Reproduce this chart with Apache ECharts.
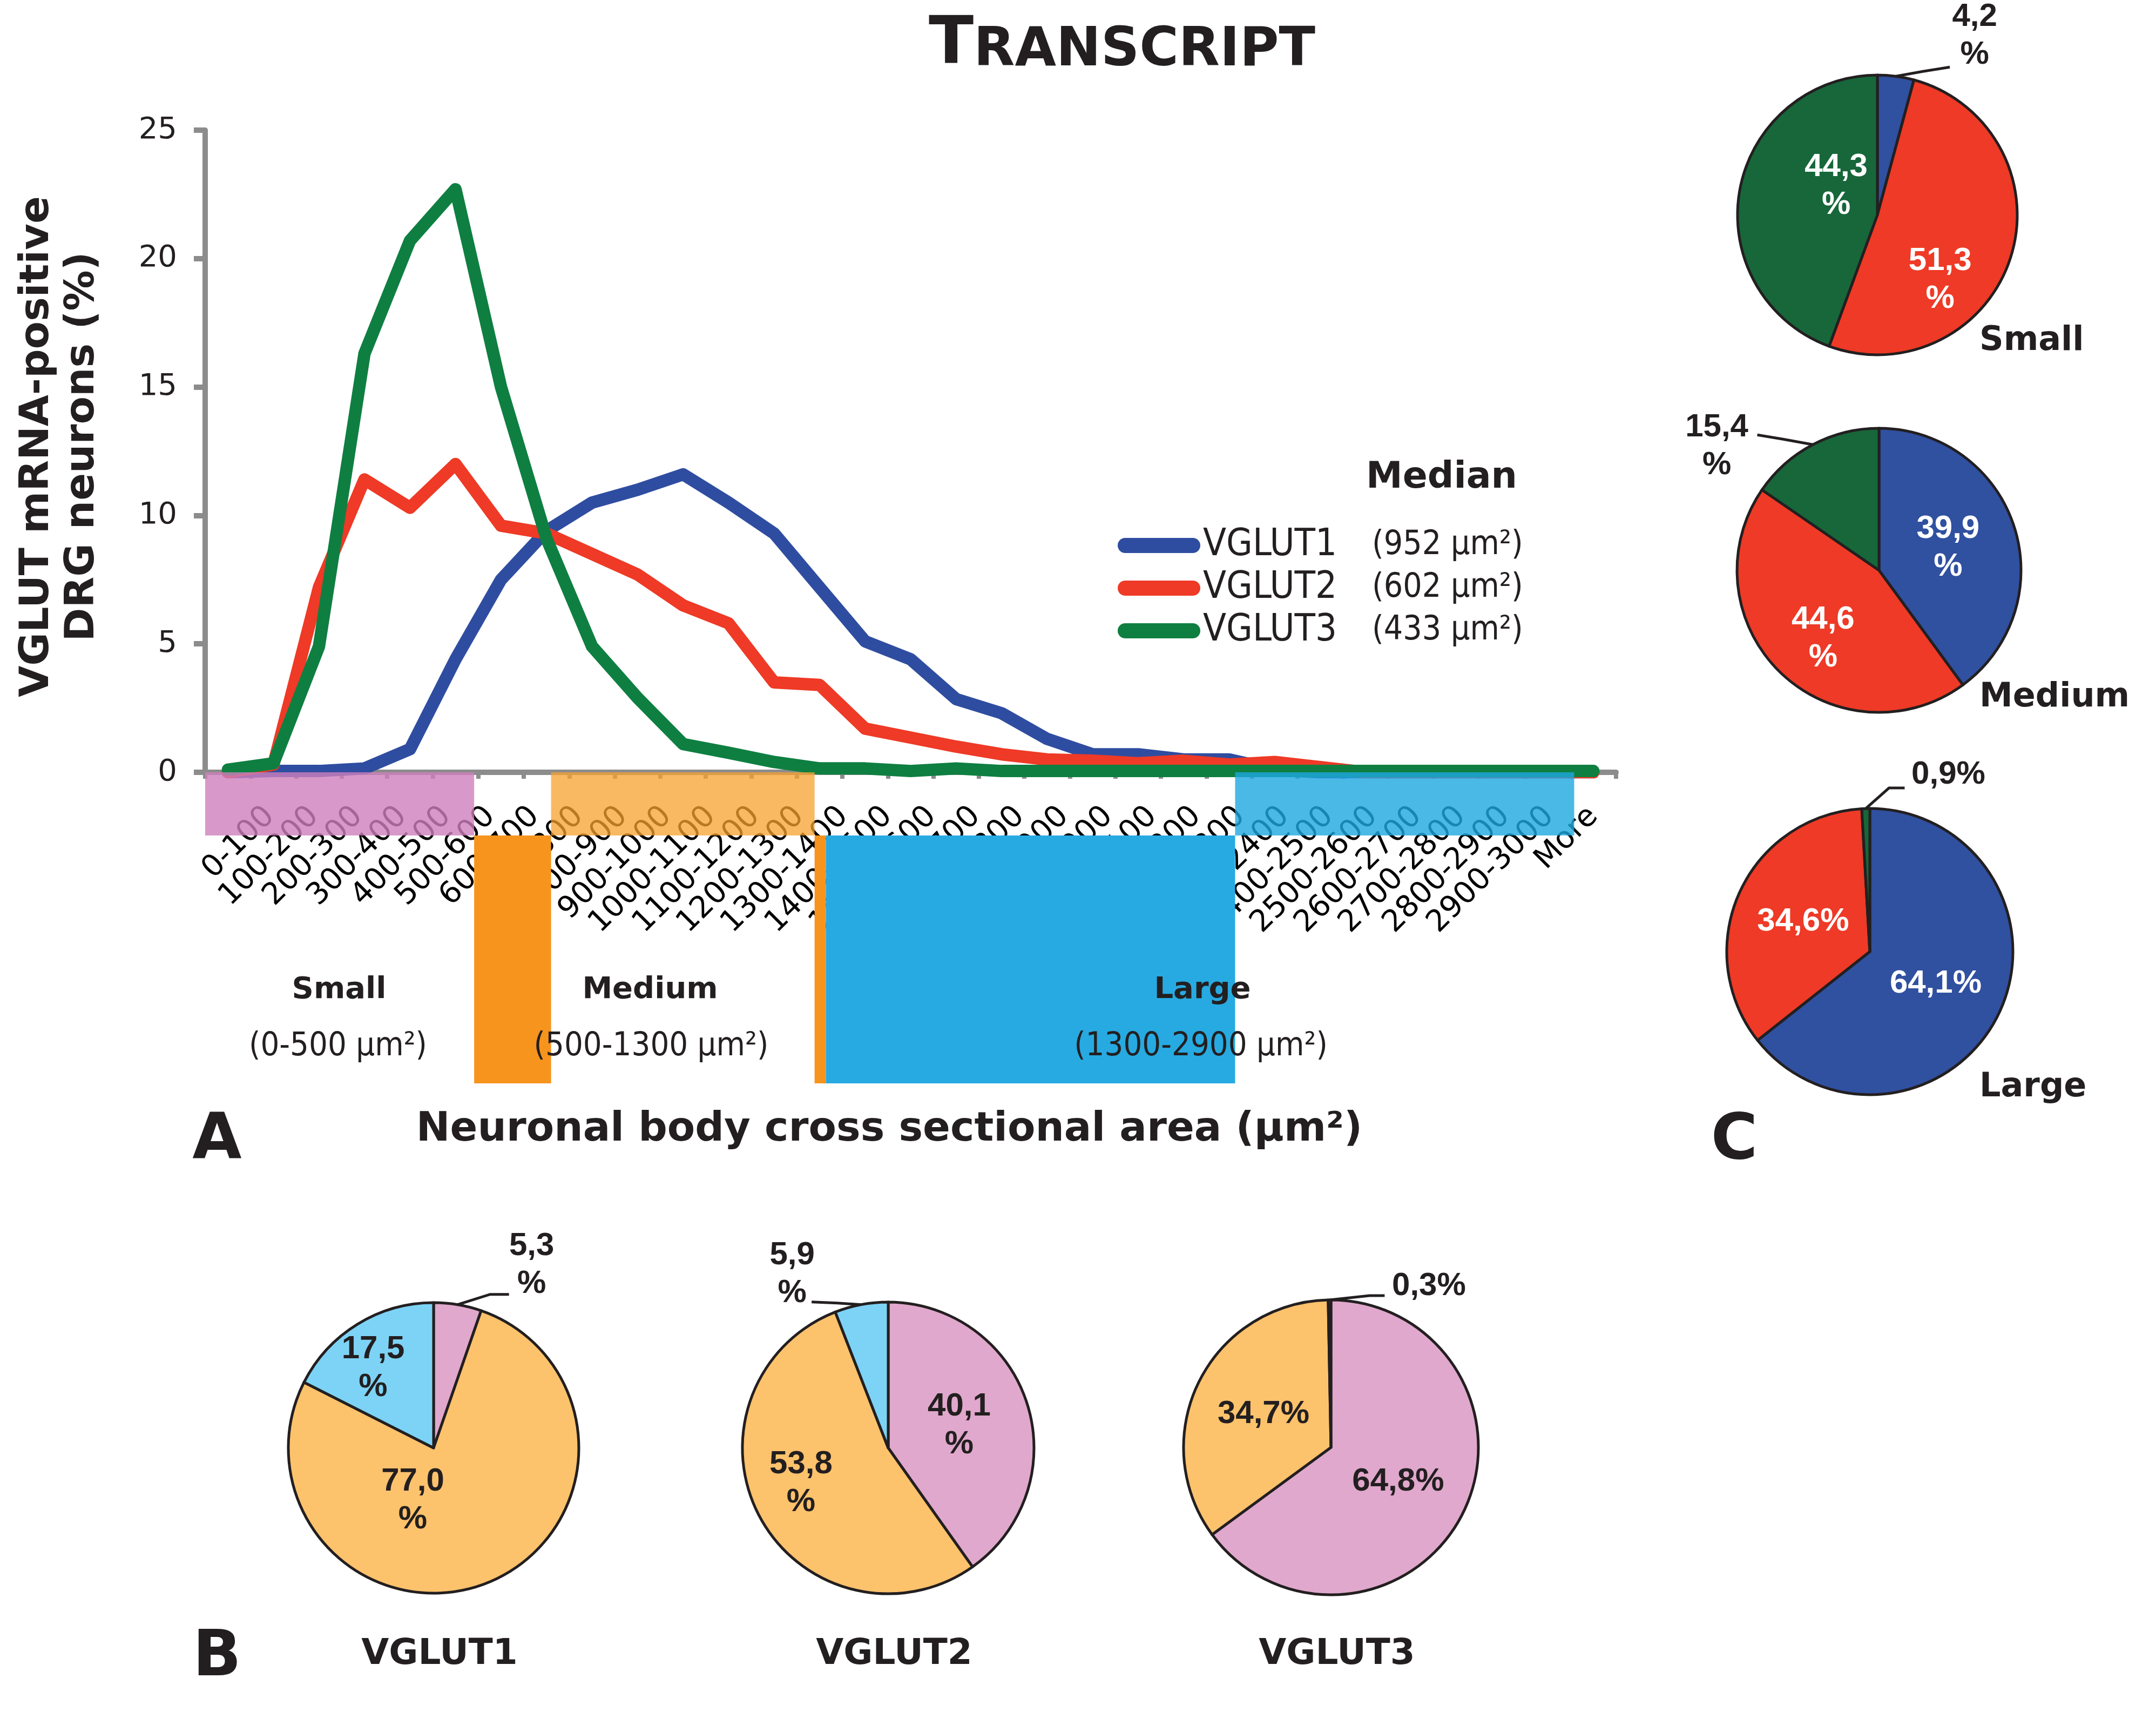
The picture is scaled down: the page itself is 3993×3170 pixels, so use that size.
<!DOCTYPE html>
<html><head><meta charset="utf-8">
<script src="https://cdn.jsdelivr.net/npm/echarts@6/dist/echarts.min.js"></script>
<style>html,body{margin:0;padding:0;background:#fff}#c{width:3993px;height:3170px}</style>
</head><body><div id="c"></div>
<script>
// ---------- data ----------
const categories = ['0-100','100-200','200-300','300-400','400-500','500-600','600-700','700-800','800-900','900-1000',
  '1000-1100','1100-1200','1200-1300','1300-1400','1400-1500','1500-1600','1600-1700','1700-1800','1800-1900','1900-2000',
  '2000-2100','2100-2200','2200-2300','2300-2400','2400-2500','2500-2600','2600-2700','2700-2800','2800-2900','2900-3000','More'];
const seriesNames = ['VGLUT1','VGLUT2','VGLUT3'];
const medians = ['(952 µm²)','(602 µm²)','(433 µm²)'];
const vglut1 = [0,0.05,0.05,0.15,0.9,4.4,7.5,9.4,10.5,11.0,11.6,10.5,9.3,7.2,5.1,4.4,2.85,2.3,1.3,0.7,0.7,0.5,0.5,0.1,0,0,0,0,0,0,0];
const vglut2 = [0,0.3,7.2,11.4,10.3,12.0,9.6,9.3,8.5,7.7,6.5,5.8,3.5,3.4,1.7,1.35,1.0,0.7,0.5,0.45,0.35,0.45,0.3,0.4,0.2,0,0,0,0,0,0];
const vglut3 = [0.1,0.35,4.9,16.3,20.7,22.7,15.0,9.1,4.9,2.9,1.1,0.76,0.4,0.15,0.15,0.05,0.15,0.05,0.05,0.05,0.05,0.05,0.05,0.05,0.05,0.05,0.05,0.05,0.05,0.05,0.05];
const yTicks = [0,5,10,15,20,25];
const sizeClasses = ['Small','Medium','Large'];
const sizeRanges = ['(0-500 µm²)','(500-1300 µm²)','(1300-2900 µm²)'];
// panel B: share of each size class (Small, Medium, Large) per transporter
const pieBTitles = ['VGLUT1','VGLUT2','VGLUT3'];
const pieB_VGLUT1 = [5.3, 77.0, 17.5];
const pieB_VGLUT2 = [40.1, 53.8, 5.9];
const pieB_VGLUT3 = [64.8, 34.7, 0.3];
// panel C: share of each transporter (VGLUT1, VGLUT2, VGLUT3) per size class
const pieC_Small  = [4.2, 51.3, 44.3];
const pieC_Medium = [39.9, 44.6, 15.4];
const pieC_Large  = [64.1, 34.6, 0.9];

// ---------- styles ----------
const INK = '#231F20';
const lineColors = ['#2F4DA0','#EE3A26','#0E7F41'];
const pieColorsB = ['#E0A8CC','#FDC26C','#7DD3F5'];
const pieColorsC = ['#3050A0','#EE3A26','#17673A'];

const fmt = (v, wrap) => v.toFixed(1).replace('.', ',') + (wrap ? '\n%' : '%');

// layout of each pie; "out" = leader-line shape (relative to slice edge) for the one outside label,
// "adj" = small nudges of inside labels
const pies = [
  {vals: pieB_VGLUT1, names: sizeClasses, colors: pieColorsB, center: [803, 2681], r: 269, wrap: true,  lc: INK,
   outside: 0, out: {p1: [60, -19], p2: [95, -19], t: [137, -73]}, adj: {1: [-45, -15], 2: [-20, -15]}},
  {vals: pieB_VGLUT2, names: sizeClasses, colors: pieColorsB, center: [1645, 2681], r: 270, wrap: true, lc: INK,
   outside: 2, out: {p1: [-45, -3], p2: [-92, -5], t: [-128, -56]}, adj: {1: [-20, 0]}},
  {vals: pieB_VGLUT3, names: sizeClasses, colors: pieColorsB, center: [2465, 2680], r: 273, wrap: false, lc: INK,
   outside: 2, out: {p1: [74, -8], p2: [102, -8], t: [184, -26]}, adj: {}},
  {vals: pieC_Small,  names: seriesNames, colors: pieColorsC, center: [3477, 398], r: 259, wrap: true, lc: '#fff',
   outside: 0, out: {p1: [50, -9], p2: [100, -17], t: [146, -75]}, adj: {1: [-5, 40], 2: [27, -15]}},
  {vals: pieC_Medium, names: seriesNames, colors: pieColorsC, center: [3480, 1056], r: 263, wrap: true, lc: '#fff',
   outside: 2, out: {p1: [-55, -10], p2: [-103, -18], t: [-178, 3]}, adj: {1: [-5, 15]}},
  {vals: pieC_Large,  names: seriesNames, colors: pieColorsC, center: [3463, 1762], r: 265, wrap: false, lc: '#fff',
   outside: 2, out: {p1: [43, -38], p2: [72, -38], t: [153, -63]}, adj: {}}
];

function edgePoint(p, i) {
  const sum = p.vals.reduce((a, b) => a + b, 0);
  let cum = 0;
  for (let k = 0; k < i; k++) cum += p.vals[k];
  const th = 2 * Math.PI * (cum + p.vals[i] / 2) / sum;
  return [p.center[0] + p.r * Math.sin(th), p.center[1] - p.r * Math.cos(th)];
}

const pieSeries = pies.map((p) => ({
  type: 'pie', silent: true, center: p.center, radius: p.r, startAngle: 90, clockwise: true,
  avoidLabelOverlap: false, z: 5,
  itemStyle: {borderColor: INK, borderWidth: 5},
  label: {show: true, position: 'inside', fontFamily: 'Liberation Sans', fontWeight: 'bold', fontSize: 60,
          lineHeight: 70, color: p.lc, align: 'center',
          formatter: (q) => fmt(q.value, p.wrap)},
  labelLine: {show: false},
  labelLayout: (params) => {
    const i = params.dataIndex;
    if (i === p.outside) {
      const E = edgePoint(p, i);
      const o = p.out;
      return {
        x: E[0] + o.t[0], y: E[1] + o.t[1], align: 'center', verticalAlign: 'middle',
        labelLinePoints: [E, [E[0] + o.p1[0], E[1] + o.p1[1]], [E[0] + o.p2[0], E[1] + o.p2[1]]]
      };
    }
    const a = p.adj[i];
    return a ? {dx: a[0], dy: a[1]} : {};
  },
  data: p.vals.map((v, i) => {
    const d = {value: v, name: p.names[i], itemStyle: {color: p.colors[i]}};
    if (i === p.outside) {
      d.label = {position: 'outside', color: INK};
      d.labelLine = {show: true, length: 35, length2: 35, lineStyle: {color: INK, width: 5}};
    }
    return d;
  })
}));

const lineSeries = [vglut1, vglut2, vglut3].map((arr, i) => ({
  type: 'line', name: seriesNames[i], data: arr, symbol: 'none', z: 3 + i,
  xAxisIndex: 0, yAxisIndex: 0,
  lineStyle: {width: 23, color: lineColors[i], cap: 'round', join: 'round'},
  itemStyle: {color: lineColors[i]}
}));

const chart = echarts.init(document.getElementById('c'), null, {renderer: 'canvas'});
const option = {
  animation: false,
  backgroundColor: '#fff',
  grid: [
    {left: 380, top: 241, width: 2613, height: 1189, containLabel: false},
    // label row of the composite figure: same categories, slightly tighter pitch
    {left: 459, top: 241, width: 2533, height: 1189, containLabel: false}
  ],
  xAxis: [{
    type: 'category', gridIndex: 0, data: categories, boundaryGap: true,
    axisLine: {onZero: false, lineStyle: {color: '#8C8C8C', width: 10}},
    axisTick: {show: true, length: 12, lineStyle: {color: '#8C8C8C', width: 8}},
    axisLabel: {show: false},
    splitLine: {show: false}
  }, {
    type: 'category', gridIndex: 1, data: categories, boundaryGap: true,
    axisLine: {show: false, onZero: false}, axisTick: {show: false}, splitLine: {show: false},
    axisLabel: {interval: 0, rotate: 45, margin: 73, fontFamily: 'DejaVu Sans', fontSize: 56, color: '#000'}
  }],
  yAxis: [{
    type: 'value', gridIndex: 0, min: yTicks[0], max: yTicks[yTicks.length - 1], interval: yTicks[1] - yTicks[0],
    axisLine: {show: true, lineStyle: {color: '#8C8C8C', width: 10}},
    axisTick: {show: true, length: 21, lineStyle: {color: '#8C8C8C', width: 10}},
    axisLabel: {margin: 52, fontFamily: 'DejaVu Sans', fontSize: 56, color: INK},
    splitLine: {show: false}
  }, {
    type: 'value', gridIndex: 1, show: false, min: 0, max: 1
  }],
  legend: {
    show: true, orient: 'vertical', left: 2065, top: 970, itemWidth: 153, itemHeight: 28, itemGap: 9,
    icon: 'path://M14,0 H139 A14,14 0 0 1 139,28 H14 A14,14 0 0 1 14,0 Z',
    data: seriesNames,
    formatter: (name) => '{n|' + name + '}{m|' + medians[seriesNames.indexOf(name)] + '}',
    textStyle: {rich: {
      n: {fontFamily: 'DejaVu Sans Condensed', fontSize: 70, width: 313, color: INK, lineHeight: 84},
      m: {fontFamily: 'DejaVu Sans Condensed', fontSize: 62, color: INK, lineHeight: 84}
    }}
  },
  series: [...lineSeries, ...pieSeries]
};
chart.setOption(option);

// ---------- decorations placed through the category axis scale ----------
const c0 = chart.convertToPixel({xAxisIndex: 0}, 0);
const c1 = chart.convertToPixel({xAxisIndex: 0}, 1);
const step = c1 - c0;
const bx = (u) => c0 - step / 2 + u * step;
const y0 = chart.convertToPixel({yAxisIndex: 0}, 0);
const bandH = 117, barH = 576;

const rect = (u0, u1, top, h, fill, opacity, z) => ({
  type: 'rect', z: z, silent: true,
  shape: {x: bx(u0), y: top, width: bx(u1) - bx(u0), height: h},
  style: {fill: fill, opacity: opacity}
});

const boldTxt = (x, y, text, size, extra) => ({
  type: 'text', z: 60, silent: true, x: x, y: y,
  style: Object.assign({text: text, fontFamily: 'DejaVu Sans', fontWeight: 'bold', fontSize: size, fill: INK,
    align: 'center', verticalAlign: 'middle'}, extra || {})
});

const graphics = [
  // hatched bands over labels
  rect(0, 5.91, y0, bandH, '#CE80BD', 0.8, 50),
  rect(7.60, 13.39, y0, bandH, '#F7A12F', 0.75, 50),
  rect(22.63, 30.08, y0, bandH, '#1EA8E0', 0.8, 50),
  // solid bars
  rect(5.91, 7.60, y0 + bandH, barH - bandH, '#F7941D', 1, 40),
  rect(13.39, 13.64, y0 + bandH, barH - bandH, '#F7941D', 1, 40),
  rect(13.64, 22.63, y0 + bandH, barH - bandH, '#27AAE1', 1, 40),
  // title
  {type: 'text', z: 60, x: 2078, y: 145, silent: true,
   style: {text: '{a|T}{b|RANSCRIPT}', align: 'center', verticalAlign: 'bottom', fill: INK,
     rich: {a: {fontFamily: 'DejaVu Sans', fontWeight: 'bold', fontSize: 122, fill: INK, verticalAlign: 'bottom'},
            b: {fontFamily: 'DejaVu Sans', fontWeight: 'bold', fontSize: 99, fill: INK, verticalAlign: 'bottom'}}}},
  // y axis title
  {type: 'text', z: 60, x: 112, y: 827, rotation: Math.PI / 2, silent: true,
   style: {text: 'VGLUT mRNA-positive\nDRG neurons (%)', fontFamily: 'DejaVu Sans', fontWeight: 'bold', fontSize: 75,
     lineHeight: 84, fill: INK, align: 'center', verticalAlign: 'middle'}},
  // x axis title
  boldTxt(1647, 2093, 'Neuronal body cross sectional area (µm²)', 75),
  // legend header
  boldTxt(2670, 885, 'Median', 68),
  // panel letters
  boldTxt(402, 2114, 'A', 118),
  boldTxt(402, 3071, 'B', 118),
  boldTxt(3212, 2114, 'C', 118)
];
// size-class annotations under the axis
const clsX = [628, 1204, 2227];
const rngX = [626, 1206, 2224];
sizeClasses.forEach((s, i) => {
  graphics.push(boldTxt(clsX[i], 1833, s, 56));
  graphics.push({type: 'text', z: 60, silent: true, x: rngX[i], y: 1938,
    style: {text: sizeRanges[i], fontFamily: 'DejaVu Sans Condensed', fontSize: 61, fill: INK, align: 'center', verticalAlign: 'middle'}});
});
// panel B titles
pieBTitles.forEach((t, i) => graphics.push(boldTxt(pies[i].center[0] + 11, 3064, t, 66)));
// panel C titles
const cTitleY = [632, 1292, 2014];
sizeClasses.forEach((s, i) => graphics.push(boldTxt(3666, cTitleY[i], s, 62, {align: 'left'})));

chart.setOption({graphic: {elements: graphics}});
</script>
</body></html>
